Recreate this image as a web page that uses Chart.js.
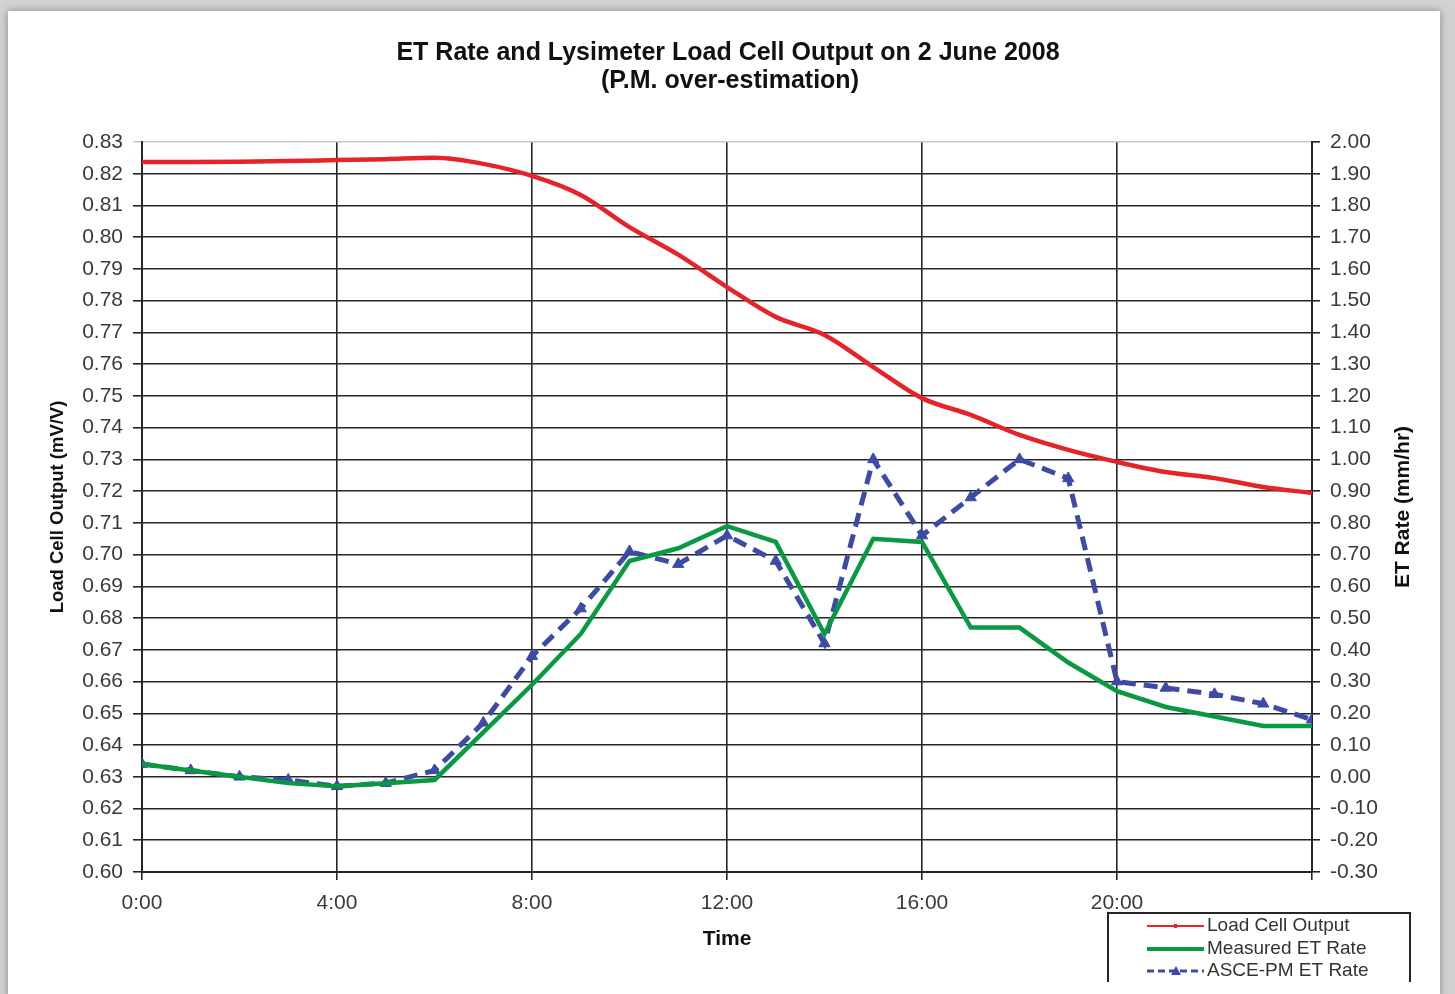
<!DOCTYPE html>
<html>
<head>
<meta charset="utf-8">
<script src="https://cdn.jsdelivr.net/npm/chart.js@4/dist/chart.umd.min.js"></script>
<style>
  html, body { margin: 0; padding: 0; overflow: hidden; background: #fff; }
  #wrap { position: relative; width: 1455px; height: 994px; }
</style>
</head>
<body>
<div id="wrap"><canvas id="chart"></canvas></div>
<script>
// hour of day
const hours = [0, 1, 2, 3, 4, 5, 6, 7, 8, 9, 10, 11, 12, 13, 14, 15, 16, 17, 18, 19, 20, 21, 22, 23, 24];

// load cell output (mV/V), left axis
const loadCell = [0.8237, 0.8237, 0.8238, 0.8240, 0.8243, 0.8246, 0.8250, 0.8231, 0.8193, 0.8133,
  0.8032, 0.7945, 0.7843, 0.7749, 0.7692, 0.7591, 0.7493, 0.7440, 0.7377, 0.7330,
  0.7292, 0.7260, 0.7241, 0.7213, 0.7194];

// measured ET rate (mm/hr), right axis
const measuredET = [0.04, 0.02, 0.00, -0.02, -0.03, -0.02, -0.01, 0.14, 0.29, 0.45,
  0.68, 0.72, 0.79, 0.74, 0.45, 0.75, 0.74, 0.47, 0.47, 0.36,
  0.27, 0.22, 0.19, 0.16, 0.16];

// ASCE Penman-Monteith ET rate (mm/hr), right axis
const asceET = [0.04, 0.02, 0.00, -0.01, -0.03, -0.02, 0.02, 0.17, 0.38, 0.53,
  0.71, 0.67, 0.76, 0.68, 0.42, 1.00, 0.76, 0.88, 1.00, 0.94,
  0.30, 0.28, 0.26, 0.23, 0.18];

const titleLines = ["ET Rate and Lysimeter Load Cell Output on 2 June 2008", "(P.M. over-estimation)"];

const RED = "#e52329";
const GREEN = "#079a41";
const BLUE = "#3d4aa6";
const GRID = "#262626";
const FONT = "'Liberation Sans', Arial, sans-serif";

const pts = arr => hours.map((h, i) => ({ x: h, y: arr[i] }));

// page frame, title, right axis title and the boxed legend
const decor = {
  id: "decor",
  beforeDraw(chart) {
    const c = chart.ctx;
    c.save();
    c.fillStyle = "#d2d2d2";
    c.fillRect(0, 0, chart.width, chart.height);
    c.shadowColor = "rgba(0,0,0,0.35)";
    c.shadowBlur = 8;
    c.fillStyle = "#fff";
    c.fillRect(8, 11, 1432, 990);
    c.restore();
  },
  afterDraw(chart) {
    const c = chart.ctx;
    c.save();
    c.fillStyle = "#111";
    c.textAlign = "center";
    c.textBaseline = "middle";
    c.font = "bold 25px " + FONT;
    c.fillText(titleLines[0], 728, 53);
    c.fillText(titleLines[1], 730, 81);

    c.save();
    c.translate(1403, 507);
    c.rotate(-Math.PI / 2);
    c.font = "bold 21px " + FONT;
    c.fillText("ET Rate (mm/hr)", 0, 0);
    c.restore();

    // legend box, cut at the bottom edge
    c.strokeStyle = GRID;
    c.lineWidth = 2;
    c.beginPath();
    c.moveTo(1108, 982);
    c.lineTo(1108, 913);
    c.lineTo(1410, 913);
    c.lineTo(1410, 982);
    c.stroke();

    const rows = [926, 949, 971];
    chart.data.datasets.forEach((ds, i) => {
      const y = rows[i];
      c.strokeStyle = ds.borderColor;
      c.lineWidth = i === 0 ? 2 : (i === 1 ? 4 : 3);
      c.setLineDash(i === 2 ? [7, 4] : []);
      c.beginPath();
      c.moveTo(1147, y);
      c.lineTo(1204, y);
      c.stroke();
      c.setLineDash([]);
      if (i === 0) {
        c.fillStyle = ds.borderColor;
        c.fillRect(1174, y - 2, 3, 4);
      } else if (i === 2) {
        c.fillStyle = ds.borderColor;
        c.beginPath();
        c.moveTo(1176, y - 5);
        c.lineTo(1181, y + 4);
        c.lineTo(1171, y + 4);
        c.closePath();
        c.fill();
      }
      c.fillStyle = "#333";
      c.textAlign = "left";
      c.font = "19px " + FONT;
      c.fillText(ds.label, 1207, y);
    });
    c.restore();
  }
};

const ctx = document.getElementById("chart").getContext("2d");
new Chart(ctx, {
  type: "line",
  data: {
    datasets: [
      {
        label: "Load Cell Output",
        data: pts(loadCell),
        yAxisID: "yLoad",
        borderColor: RED,
        borderWidth: 4.5,
        pointRadius: 0,
        cubicInterpolationMode: "monotone",
        tension: 0.4
      },
      {
        label: "Measured ET Rate",
        data: pts(measuredET),
        yAxisID: "yET",
        borderColor: GREEN,
        borderWidth: 4.5,
        pointRadius: 0,
        tension: 0
      },
      {
        label: "ASCE-PM ET Rate",
        data: pts(asceET),
        yAxisID: "yET",
        borderColor: BLUE,
        backgroundColor: BLUE,
        borderWidth: 5,
        borderDash: [14, 8],
        pointStyle: "triangle",
        pointRadius: 6.5,
        pointBorderWidth: 1,
        tension: 0
      }
    ]
  },
  options: {
    responsive: true,
    maintainAspectRatio: false,
    animation: false,
    layout: { padding: { top: 142, left: 0, right: 0, bottom: 0 } },
    plugins: {
      legend: { display: false },
      title: { display: false },
      tooltip: { enabled: false }
    },
    scales: {
      x: {
        type: "linear",
        min: 0,
        max: 24,
        afterFit: s => { s.height = 122; },
        ticks: {
          stepSize: 4,
          padding: 11,
          maxRotation: 0,
          color: "#3a3a3a",
          font: { family: FONT, size: 21 },
          callback: v => (v === 24 ? "" : v + ":00")
        },
        grid: { color: GRID, lineWidth: 1.6, tickLength: 8 },
        border: { color: GRID, width: 2 },
        title: {
          display: true,
          text: "Time",
          color: "#111",
          font: { family: FONT, size: 21, weight: "bold" },
          padding: { top: 0, bottom: 42 }
        }
      },
      yLoad: {
        position: "left",
        min: 0.60,
        max: 0.83,
        afterFit: s => { s.width = 142; },
        ticks: {
          stepSize: 0.01,
          autoSkip: false,
          padding: 10,
          color: "#3a3a3a",
          font: { family: FONT, size: 21 },
          callback: v => v.toFixed(2)
        },
        grid: {
          color: c => (c.index === 23 ? "#c8c8c8" : GRID),
          lineWidth: 1.6,
          tickLength: 9
        },
        border: { color: GRID, width: 2 },
        title: {
          display: true,
          text: "Load Cell Output (mV/V)",
          color: "#111",
          font: { family: FONT, size: 18.5, weight: "bold" },
          padding: { top: 47, bottom: 0 }
        }
      },
      yET: {
        position: "right",
        min: -0.3,
        max: 2.0,
        afterFit: s => { s.width = 143; },
        ticks: {
          stepSize: 0.1,
          autoSkip: false,
          padding: 10,
          color: "#3a3a3a",
          font: { family: FONT, size: 21 },
          callback: v => v.toFixed(2)
        },
        grid: { drawOnChartArea: false, color: GRID, lineWidth: 1.6, tickLength: 8 },
        border: { color: GRID, width: 2 }
      }
    }
  },
  plugins: [decor]
});
</script>
</body>
</html>
